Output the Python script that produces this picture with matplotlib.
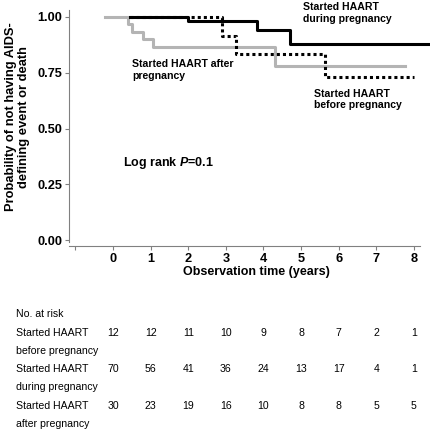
#! /usr/bin/env python3
"""Kaplan-Meier curves: AIDS-defining event or death by HAART start timing."""

import matplotlib

matplotlib.use("Agg")
import matplotlib.pyplot as plt
import matplotlib.transforms as mtransforms

plt.rcParams.update({
    "font.family": "sans-serif",
    "font.sans-serif": ["Liberation Sans", "DejaVu Sans"],
    "mathtext.fontset": "custom",
    "mathtext.it": "Liberation Sans:italic:bold",
    "mathtext.rm": "Liberation Sans:bold",
})

# survival steps (time in years, probability)
after_t = [-0.2, 0.4, 0.5, 0.8, 1.05, 4.3, 7.75]
after_s = [1.0, 0.967, 0.933, 0.9, 0.867, 0.78, 0.78]
during_t = [0.45, 2.0, 3.83, 4.71, 8.4]
during_s = [1.0, 0.98, 0.94, 0.88, 0.88]
before_t = [0.45, 2.9, 3.27, 5.64, 8.0]
before_s = [1.0, 0.917, 0.833, 0.73, 0.73]

# numbers at risk
risk_times = [0, 1, 2, 3, 4, 5, 6, 7, 8]
risk_groups = [
    ("Started HAART", "before pregnancy"),
    ("Started HAART", "during pregnancy"),
    ("Started HAART", "after pregnancy"),
]
risk_before = [12, 12, 11, 10, 9, 8, 7, 2, 1]
risk_during = [70, 56, 41, 36, 24, 13, 17, 4, 1]
risk_after = [30, 23, 19, 16, 10, 8, 8, 5, 5]

x_ticks = [-1, 0, 1, 2, 3, 4, 5, 6, 7, 8]
y_ticks = [0.0, 0.25, 0.5, 0.75, 1.0]

W, H = 430, 433
fig = plt.figure(figsize=(W / 100, H / 100), dpi=100)
ax = fig.add_axes([69 / W, 1 - 245.6 / H, (420 - 69) / W, (245.6 - 10.3) / H])
ax.set_xlim(-1.17, 8.16)
ax.set_ylim(-0.025, 1.03)

spine_col = "#808080"
for side in ("top", "right"):
    ax.spines[side].set_visible(False)
for side in ("left", "bottom"):
    ax.spines[side].set_color(spine_col)
    ax.spines[side].set_linewidth(0.8)
ax.spines["left"].set_bounds(-0.01, 1.03)

ax.set_xticks(x_ticks)
ax.set_xticklabels(["" if t < 0 else str(t) for t in x_ticks])
ax.set_yticks(y_ticks)
ax.set_yticklabels([f"{v:.2f}" for v in y_ticks])
ax.tick_params(length=3, width=0.8, color=spine_col, labelsize=9.2, pad=2)
for lab in ax.get_xticklabels() + ax.get_yticklabels():
    lab.set_fontweight("bold")

lw = 2.2
ax.step(after_t, after_s, where="post", color="#b4b4b4", lw=lw, zorder=2)
ax.step(before_t, before_s, where="post", color="black", lw=lw,
        linestyle=(0, (1, 1)), dash_capstyle="butt", zorder=3)
ax.step(during_t, during_s, where="post", color="black", lw=lw,
        clip_on=False, zorder=4)

lab_kw = dict(fontsize=7.6, fontweight="bold", va="center", ha="left",
              linespacing=1.15)
ax.text(5.05, 1.018, "Started HAART\nduring pregnancy", **lab_kw)
ax.text(0.5, 0.762, "Started HAART after\npregnancy", **lab_kw)
ax.text(5.35, 0.63, "Started HAART\nbefore pregnancy", **lab_kw)
ax.text(0.27, 0.345, "Log rank $P$=0.1", fontsize=9, fontweight="bold",
        va="center", ha="left")

fig.text(17.5 / W, 1 - 117 / H,
         "Probability of not having AIDS-\ndefining event or death",
         rotation=90, fontsize=9.3, fontweight="bold", ha="center",
         va="center", linespacing=1.1)
fig.text(256.5 / W, 1 - 272 / H, "Observation time (years)", fontsize=9,
         fontweight="bold", ha="center", va="center")

# risk table
tr = mtransforms.blended_transform_factory(ax.transData, fig.transFigure)
row_y = [333, 369, 406]
fig.text(16 / W, 1 - 314 / H, "No. at risk", fontsize=7.6, va="center")
for (l1, l2), y, counts in zip(risk_groups, row_y,
                               [risk_before, risk_during, risk_after]):
    fig.text(16 / W, 1 - y / H, l1, fontsize=7.6, va="center")
    fig.text(16 / W, 1 - (y + 18) / H, l2, fontsize=7.6, va="center")
    for t, n in zip(risk_times, counts):
        ax.text(t, 1 - y / H, str(n), transform=tr, fontsize=7.6,
                ha="center", va="center", clip_on=False)

fig.savefig("out.png", dpi=100)
